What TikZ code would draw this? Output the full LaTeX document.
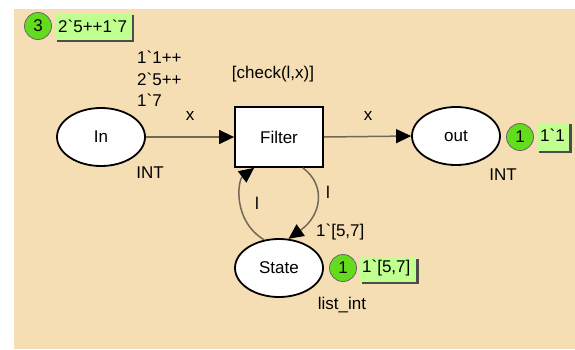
\documentclass[tikz,border=0pt]{standalone}
\usepackage{fontspec}
\setmainfont{Liberation Sans}
\usetikzlibrary{arrows.meta,shapes.geometric}
\definecolor{bg}{RGB}{245,222,179}
\definecolor{arccol}{RGB}{115,104,88}
\definecolor{tokgreen}{RGB}{100,220,30}
\definecolor{markfill}{RGB}{192,255,144}
\newcommand{\bq}{\textasciigrave}
\tikzset{
  txt/.style={font=\fontsize{17}{20}\selectfont},
  place/.style={ellipse,draw=black,line width=1.8pt,fill=white,minimum width=88pt,minimum height=58pt,inner sep=0pt,txt},
  trans/.style={rectangle,draw=black,line width=1.8pt,fill=white,minimum width=88pt,minimum height=60pt,inner sep=0pt,txt},
  arc/.style={draw=arccol,line width=1.5pt,-{Triangle[length=15pt,width=14pt,color=black]}},
  lbl/.style={inner sep=0pt,txt},
  tok/.style={circle,fill=tokgreen,draw=black!60,line width=0.8pt,minimum size=27pt,inner sep=0pt,txt},
  markbox/.style={rectangle,fill=markfill,inner sep=0pt,anchor=west}
}
\begin{document}
\begin{tikzpicture}[x=1pt,y=-1pt]
\useasboundingbox (0,0) rectangle (575,349);
\fill[bg] (14,9) rectangle (575,349);
% places and transition
\node[place] (In) at (101,137) {In};
\node[trans] (Filter) at (279,137) {Filter};
\node[place] (out) at (456,136) {out};
\node[place] (State) at (279,268) {State};
% labels
\node[lbl] (tIn) at (150,173) {INT};
\node[lbl] (tOut) at (503,175) {INT};
\node[lbl] (tState) at (342,305) {list\_int};
\node[lbl] (guard) at (273,74) {[check(l,x)]};
\node[lbl,anchor=west] (i1) at (137,57) {1\bq1++};
\node[lbl,anchor=west] (i2) at (137,79) {2\bq5++};
\node[lbl,anchor=west] (i3) at (137,100) {1\bq7};
% arcs
\draw[arc] (In.east) -- (Filter.west);
\draw[arc] (Filter.east) -- (out.west);
\coordinate (fbl) at ([xshift=20pt]Filter.south west);
\coordinate (fbr) at ([xshift=-21pt]Filter.south east);
\draw[arc] (State.118) .. controls (232,220) and (238,180) .. (fbl);
\draw[arc] (fbr) .. controls (326,185) and (322,215) .. (State.72);
\node[lbl] (ax1) at (190,116) {x};
\node[lbl] (ax2) at (368,116) {x};
\node[lbl] (al1) at (257,203) {l};
\node[lbl] (al2) at (328,192) {l};
\node[lbl,anchor=west] (ainit) at (316,232) {1\bq[5,7]};
% token markings
\node[tok] (t3) at (38,26) {3};
\fill[black!70] (57,15) rectangle (134,42);
\node[markbox,minimum width=77pt,minimum height=26pt] (m3) at (55,27) {};
\node[lbl,anchor=west] (m3t) at (58,26) {2\bq5++1\bq7};
\node[tok] (t1) at (520,137) {1};
\fill[black!70] (539,124) rectangle (572,153);
\node[markbox,minimum width=32pt,minimum height=28pt] (m1) at (537,137) {};
\node[lbl,anchor=west] (m1t) at (540,135) {1\bq1};
\node[tok] (t2) at (343,268) {1};
\fill[black!70] (362,259) rectangle (419,284);
\node[markbox,minimum width=56pt,minimum height=24pt] (m2) at (360,270) {};
\node[lbl,anchor=west] (m2t) at (362,268) {1\bq[5,7]};
\end{tikzpicture}
\end{document}
